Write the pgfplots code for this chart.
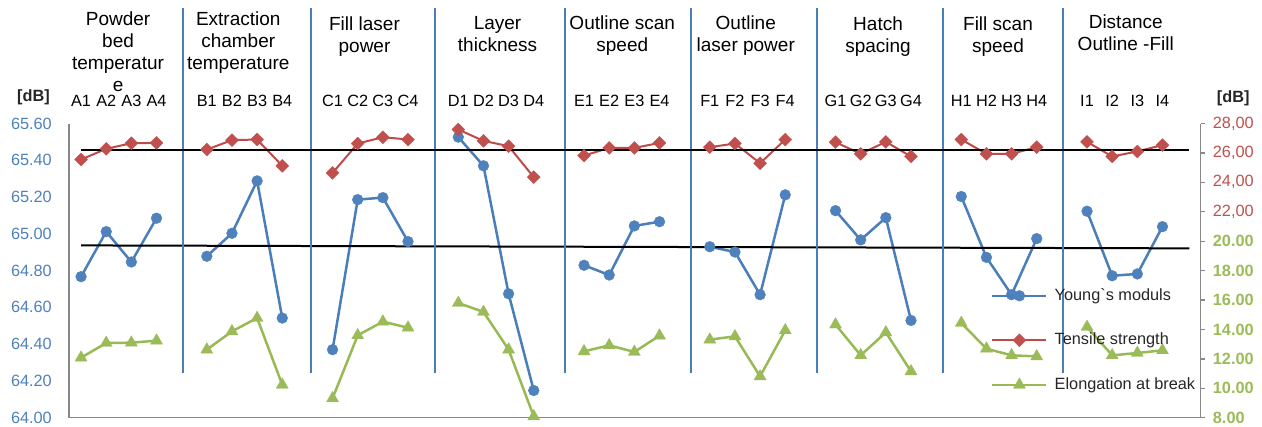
\documentclass[border=0pt]{standalone}
\usepackage{fontspec}
\setmainfont{Liberation Sans}
\newfontfamily\plainfont{Liberation Sans}
\usepackage{pgfplots}
\usepackage{pgfplotstable}
\pgfplotsset{compat=1.18}

\definecolor{cblue}{HTML}{4F81BD}
\definecolor{cbluel}{HTML}{4A7EBB}
\definecolor{cred}{HTML}{C0504D}
\definecolor{credl}{HTML}{BE4B48}
\definecolor{cgreen}{HTML}{9BBB59}
\definecolor{cgreenl}{HTML}{98B954}
\definecolor{caxis}{HTML}{888888}
\definecolor{ctext}{HTML}{262626}

\pgfplotstableread{
x blue red green
0 64.767 25.55 12.08
1 65.012 26.28 13.08
2 64.847 26.66 13.10
3 65.085 26.68 13.24
4 nan nan nan
5 64.878 26.23 12.63
6 65.003 26.87 13.87
7 65.288 26.91 14.78
8 64.542 25.12 10.24
9 nan nan nan
10 64.370 24.64 9.32
11 65.186 26.64 13.60
12 65.197 27.07 14.53
13 64.958 26.91 14.12
14 nan nan nan
15 65.526 27.59 15.80
16 65.370 26.82 15.19
17 64.674 26.46 12.63
18 64.148 24.35 8.09
19 nan nan nan
20 64.829 25.82 12.51
21 64.776 26.34 12.92
22 65.043 26.34 12.47
23 65.066 26.68 13.58
24 nan nan nan
25 64.930 26.39 13.31
26 64.901 26.64 13.53
27 64.669 25.30 10.81
28 65.212 26.91 13.94
29 nan nan nan
30 65.126 26.73 14.33
31 64.967 25.94 12.24
32 65.088 26.75 13.80
33 64.529 25.76 11.15
34 nan nan nan
35 65.203 26.91 14.44
36 64.872 25.94 12.69
37 64.669 25.94 12.24
38 64.974 26.39 12.17
39 nan nan nan
40 65.123 26.75 14.17
41 64.772 25.76 12.24
42 64.782 26.10 12.40
43 65.039 26.53 12.58
}\data

\newcommand{\gtitle}[3]{\node[anchor=base, inner sep=0pt, text=black, font=\fontsize{19}{22}\selectfont, yshift=#2pt] at (axis cs:#1,65.6) {\begin{tabular}[t]{@{}c@{}}#3\end{tabular}};}

\begin{document}
\begin{tikzpicture}
\begin{axis}[name=left,
  scale only axis, width=1131.7pt, height=294.2pt,
  xmin=-0.48, xmax=44.52, ymin=64, ymax=65.6,
  axis x line*=bottom, axis y line*=left,
  axis line style={caxis, line width=1.3pt},
  xtick=\empty,
  ytick={64,64.2,64.4,64.6,64.8,65,65.2,65.4,65.6},
  yticklabels={64.00,64.20,64.40,64.60,64.80,65.00,65.20,65.40,65.60},
  yticklabel style={font=\fontsize{16.3}{18}\selectfont, text=cblue, inner sep=0pt, anchor=east, xshift=-17pt},
  major tick length=0pt,
  ytick style={draw=none},
  clip=false,
  unbounded coords=jump,
]
\addplot[cbluel, line width=2.5pt, line join=round, mark=*, mark size=5.4pt, mark options={fill=cblue, draw=cblue, line width=0.4pt}] table[x=x, y=blue]{\data};
\addplot[black, line width=2pt] coordinates {(0,64.937) (44.07,64.921)};
\pgfplotsinvokeforeach{4.05,9.14,14.07,19.25,24.25,29.26,34.27,39.04}{
  \draw[cbluel, line width=1.6pt] (axis cs:#1,64.2417) -- (axis cs:#1,66.2275);
}
\gtitle{1.47}{97.5}{Powder\\bed\\temperatur\\e}
\gtitle{6.25}{97.5}{Extraction\\chamber\\temperature}
\gtitle{11.27}{93}{Fill laser\\power}
\gtitle{16.56}{94}{Layer\\thickness}
\gtitle{21.52}{93.5}{Outline scan\\speed}
\gtitle{26.43}{93.5}{Outline\\laser power}
\gtitle{31.69}{93}{Hatch\\spacing}
\gtitle{36.46}{93}{Fill scan\\speed}
\gtitle{41.54}{95}{Distance\\Outline -Fill}
\node[anchor=base west, inner sep=0pt, font=\fontsize{16.3}{18}\selectfont\bfseries, text=ctext, xshift=-52pt, yshift=22.5pt] at (axis cs:-0.48,65.6) {[dB]};
\node[anchor=base west, inner sep=0pt, font=\fontsize{16.3}{18}\selectfont\bfseries, text=ctext, xshift=16pt, yshift=21.5pt] at (axis cs:44.52,65.6) {[dB]};
\end{axis}

\begin{axis}[
  scale only axis, width=1131.7pt, height=294.2pt,
  xmin=-0.48, xmax=44.52, ymin=8, ymax=28,
  axis y line*=right, axis x line*=top,
  axis line style={caxis, line width=1.3pt},
  x axis line style={draw=none},
  xtick={0,1,2,3,5,6,7,8,10,11,12,13,15,16,17,18,20,21,22,23,25,26,27,28,30,31,32,33,35,36,37,38,40,41,42,43},
  xticklabels={A1,A2,A3,A4,B1,B2,B3,B4,C1,C2,C3,C4,D1,D2,D3,D4,E1,E2,E3,E4,F1,F2,F3,F4,G1,G2,G3,G4,H1,H2,H3,H4,I1,I2,I3,I4},
  xticklabel style={font=\fontsize{16.3}{18}\selectfont, text=black, inner sep=0pt, anchor=base, yshift=13.5pt},
  xtick style={draw=none},
  ytick={8,10,12,14,16,18,20,22,24,26,28},
  yticklabels={{\bfseries\textcolor{cgreen}{8.00}},{\bfseries\textcolor{cgreen}{10.00}},{\bfseries\textcolor{cgreen}{12.00}},{\bfseries\textcolor{cgreen}{14.00}},{\bfseries\textcolor{cgreen}{16.00}},{\bfseries\textcolor{cgreen}{18.00}},{\bfseries\textcolor{cgreen}{20.00}},{\textcolor{cred}{22,00}},{\textcolor{cred}{24,00}},{\textcolor{cred}{26,00}},{\textcolor{cred}{28,00}}},
  yticklabel style={font=\fontsize{16.3}{18}\selectfont, inner sep=0pt, anchor=west, xshift=8pt},
  ytick style={caxis, line width=1.3pt},
  tick align=outside, major tick length=4pt,
  clip=false,
  unbounded coords=jump,
  legend cell align=left,
  legend image code/.code={\draw[mark repeat=2, mark phase=2, #1] plot coordinates {(0pt,0pt) (27pt,0pt) (54pt,0pt)};},
  legend style={draw=none, fill=none, at={(0.8147,0.4414)}, anchor=north west, inner sep=0pt,
    font=\fontsize{16.3}{18}\selectfont\plainfont, text=ctext, row sep=29pt,
    nodes={inner sep=0pt, text height=12pt, text depth=3.5pt},
    /tikz/every odd column/.append style={column sep=7pt}},
]
\addlegendimage{cbluel, line width=2.5pt, mark=*, mark size=5.4pt, mark options={fill=cblue, draw=cblue, line width=0.4pt}}
\addlegendentry{Young`s moduls}
\addplot[credl, line width=2pt, line join=round, mark=square*, mark size=4.6pt, mark options={rotate=45, fill=cred, draw=cred, line width=0.3pt}] table[x=x, y=red]{\data};
\addlegendentry{Tensile strength}
\addplot[cgreenl, line width=2.5pt, line join=round, mark=triangle*, mark size=7pt, mark options={fill=cgreen, draw=cgreen, line width=0.3pt}] table[x=x, y=green]{\data};
\addlegendentry{Elongation at break}
\addplot[black, line width=2pt, forget plot] coordinates {(0,26.21) (44.07,26.21)};
\end{axis}
\pgfresetboundingbox
\path (left.south west) ++(-69pt,-8.3pt) coordinate (bbA);
\path (left.north east) ++(61.3pt,123.5pt) coordinate (bbB);
\useasboundingbox (bbA) rectangle (bbB);
\end{tikzpicture}
\end{document}
